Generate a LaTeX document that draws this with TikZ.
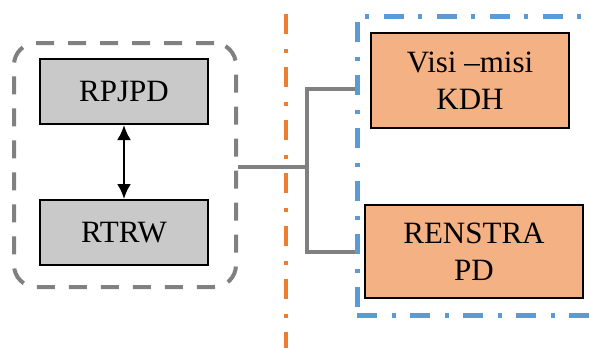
\documentclass[tikz,border=0pt]{standalone}
\usepackage{fontspec}
\setmainfont{Liberation Serif}
\usepackage{tikz}
\usetikzlibrary{arrows.meta,positioning,calc}
\definecolor{boxgray}{RGB}{201, 201, 201}
\definecolor{linegray}{RGB}{128, 128, 128}
\definecolor{sepOrange}{RGB}{237, 125, 49}
\definecolor{grpBlue}{RGB}{91, 155, 213}
\definecolor{boxOrange}{RGB}{244, 177, 131}

\tikzset{
  planbox/.style={draw=black, line width=2pt, inner sep=0pt, align=center,
    font=\fontsize{31}{37}\selectfont},
  dashdot/.style={dash pattern=on 20pt off 15pt on 4pt off 14pt}
}

\begin{document}
\begin{tikzpicture}[x=1pt, y=-1pt, >={Latex[length=15pt,width=14pt]}]
        \clip (0,0) rectangle (590,348);

        % Left group (RPJPD / RTRW)
        \node[draw=linegray, line width=4pt, dash pattern=on 18pt off 14pt,
              rounded corners=22pt, minimum width=222pt, minimum height=244pt] (grpL) at (125, 165) {};
        \node[planbox, fill=boxgray, minimum width=168pt, minimum height=65pt] (rpjpd) at (124, 91.5) {RPJPD};
        \node[planbox, fill=boxgray, minimum width=168pt, minimum height=65pt] (rtrw) at (124, 232.5) {RTRW};
        \draw[<->, line width=2.5pt] (rpjpd.south) -- (rtrw.north);

        % Separator
        \coordinate (sepTop) at (286, 14);
        \coordinate (sepBot) at (286, 352);
        \draw[sepOrange, line width=4pt, dashdot] (sepTop) -- (sepBot);

        % Right group (Visi-misi / RENSTRA)
        \node[draw=grpBlue, line width=4.5pt, dashdot,
              minimum width=245pt, minimum height=299pt, anchor=north west] (grpR) at (355, 14) {};
        \node[planbox, fill=boxOrange, minimum width=198pt, minimum height=95pt] (visi) at (470, 80.5) {Visi –misi\\KDH};
        \node[planbox, fill=boxOrange, minimum width=218pt, minimum height=93pt] (renstra) at (474, 251.5) {RENSTRA\\PD};

        % Link between groups
        \coordinate (jn) at (307, 167);
        \coordinate (toVisi) at (355, 89);
        \coordinate (toRen) at (355, 252);
        \draw[linegray, line width=4pt] (grpL.east |- jn) -- (jn);
        \draw[linegray, line width=4pt] (toVisi) -| (jn) |- (toRen);
    \end{tikzpicture}
\end{document}
